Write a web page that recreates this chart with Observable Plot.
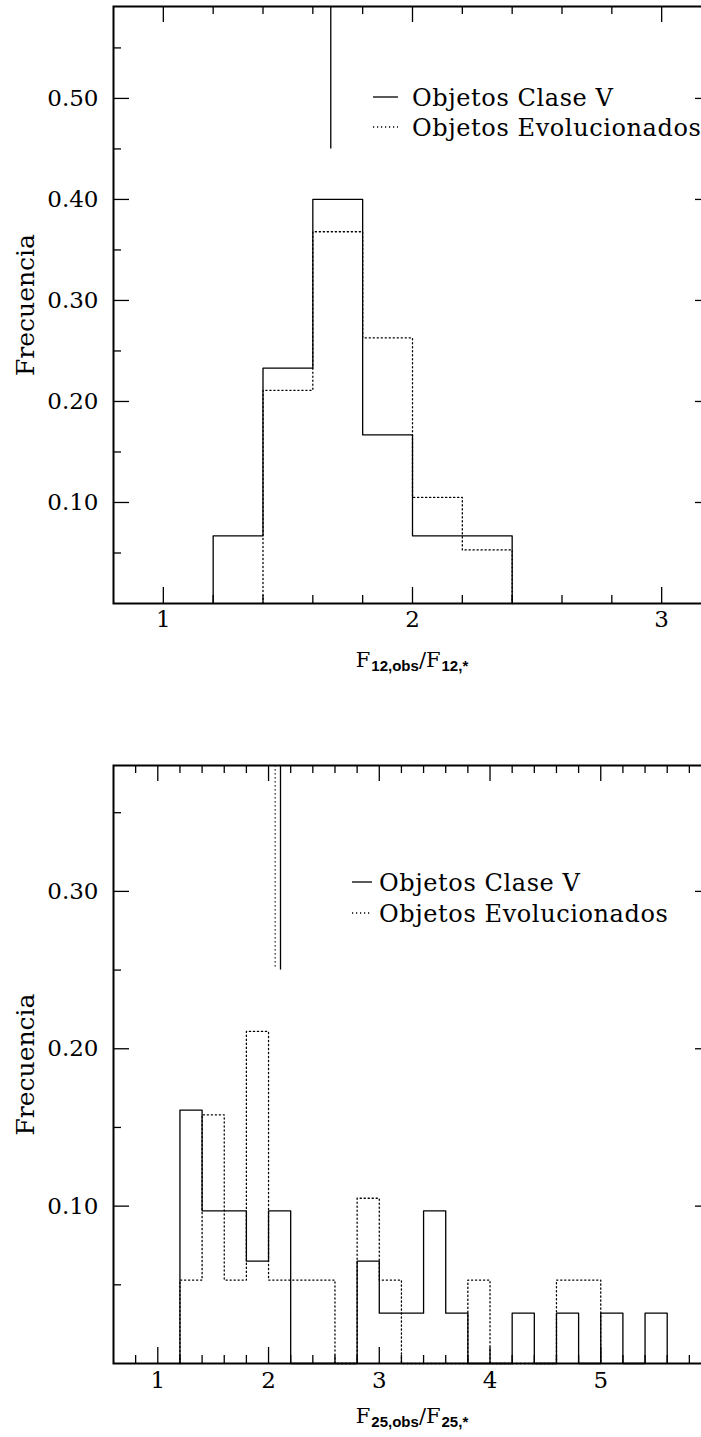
<!DOCTYPE html>
<html><head><meta charset="utf-8">
<script src="https://cdn.jsdelivr.net/npm/d3@7"></script>
<script src="https://cdn.jsdelivr.net/npm/@observablehq/plot@0.6"></script>
<style>
html,body{margin:0;padding:0;background:#fff;overflow:hidden;}
#page{position:relative;width:701px;height:1437px;overflow:hidden;background:#fff;}
.panel{position:absolute;left:0;width:701px;}
.xlabel{position:absolute;font-family:"DejaVu Serif";font-size:21px;color:#000;white-space:nowrap;transform:translateX(-50%);line-height:1;}
.xlabel .sb{font-family:"Liberation Sans";font-weight:bold;font-size:15px;position:relative;top:4px;margin-left:1px;}
</style></head>
<body><div id="page"></div>
<script>
// ---------- DATA ----------
// Top panel: F12,obs/F12,*
const edgesClaseV12 = [1.2, 1.4, 1.6, 1.8, 2.0, 2.2, 2.4];
const claseV12 = [0.067, 0.233, 0.400, 0.167, 0.067, 0.067];
const edgesEvol12 = [1.4, 1.6, 1.8, 2.0, 2.2, 2.4];
const evol12 = [0.211, 0.368, 0.263, 0.105, 0.053];
const markerX12 = [1.672];
const markerY12 = [0.45];
const xMajor12 = [1, 2, 3];
const xMinor12 = [1.2, 1.4, 1.6, 1.8, 2.2, 2.4, 2.6, 2.8, 3.2];
const yMajor12 = [0.10, 0.20, 0.30, 0.40, 0.50];
const yMinor12 = [0.05, 0.15, 0.25, 0.35, 0.45, 0.55];

// Bottom panel: F25,obs/F25,*
const edgesClaseV25 = [1.2, 1.4, 1.6, 1.8, 2.0, 2.2, 2.4, 2.6, 2.8, 3.0, 3.2, 3.4, 3.6, 3.8, 4.0, 4.2, 4.4, 4.6, 4.8, 5.0, 5.2, 5.4, 5.6];
const claseV25 = [0.161, 0.097, 0.097, 0.065, 0.097, 0, 0, 0, 0.065, 0.032, 0.032, 0.097, 0.032, 0, 0, 0.032, 0, 0.032, 0, 0.032, 0, 0.032];
const edgesEvol25 = [1.2, 1.4, 1.6, 1.8, 2.0, 2.2, 2.4, 2.6, 2.8, 3.0, 3.2, 3.4, 3.6, 3.8, 4.0, 4.2, 4.4, 4.6, 4.8, 5.0];
const evol25 = [0.053, 0.158, 0.053, 0.211, 0.053, 0.053, 0.053, 0, 0.105, 0.053, 0, 0, 0, 0.053, 0, 0, 0, 0.053, 0.053];
const markerXClaseV25 = [2.108];
const markerYClaseV25 = [0.25];
const markerXEvol25 = [2.06];
const markerYEvol25 = [0.252];
const xMajor25 = [1, 2, 3, 4, 5];
const xMinor25 = [0.8, 1.2, 1.4, 1.6, 1.8, 2.2, 2.4, 2.6, 2.8, 3.2, 3.4, 3.6, 3.8, 4.2, 4.4, 4.6, 4.8, 5.2, 5.4, 5.6, 5.8];
const yMajor25 = [0.10, 0.20, 0.30];
const yMinor25 = [0.05, 0.15, 0.25, 0.35];

const legendLabels = ["Objetos Clase V", "Objetos Evolucionados"];
const yLabel = "Frecuencia";

// ---------- DRAWING ----------
const FONT = "DejaVu Serif";
const DOT = "1.2,2.8";

function outline(edges, vals) {
  const pts = [{x: edges[0], y: 0}];
  vals.forEach((v, i) => { pts.push({x: edges[i], y: v}); pts.push({x: edges[i + 1], y: v}); });
  pts.push({x: edges[vals.length], y: 0});
  return pts;
}

function panel(o) {
  const width = 701, marginLeft = 113, marginRight = -10;
  const H = o.height - o.marginTop - o.marginBottom;
  const W = width - marginLeft - marginRight;
  const tk = {stroke: "black", strokeWidth: 1.3};
  const marks = [
    Plot.ruleX(o.xMajor, {...tk, insetTop: H - 16}),
    Plot.ruleX(o.xMajor, {...tk, insetBottom: H - 16}),
    Plot.ruleX(o.xMinor, {...tk, insetTop: H - 8}),
    Plot.ruleX(o.xMinor, {...tk, insetBottom: H - 8}),
    Plot.ruleY(o.yMajor, {...tk, insetRight: W - 16}),
    Plot.ruleY(o.yMajor, {...tk, insetLeft: W - 16}),
    Plot.ruleY(o.yMinor, {...tk, insetRight: W - 8}),
    Plot.ruleY(o.yMinor, {...tk, insetLeft: W - 8}),
    Plot.line(outline(o.edgesE, o.valsE), {x: "x", y: "y", stroke: "black", strokeWidth: 1.3, strokeDasharray: DOT}),
    Plot.line(outline(o.edgesV, o.valsV), {x: "x", y: "y", stroke: "black", strokeWidth: 1.3}),
    ...o.markers.map(m => Plot.ruleX(m.x.map((x, i) => ({x, y1: m.y[i]})), {x: "x", y1: "y1", y2: o.yDomain[1], stroke: "black", strokeWidth: 1.3, strokeDasharray: m.dash})),
    Plot.frame({stroke: "black", strokeWidth: 2}),
    Plot.text(o.yMajor, {y: d => d, text: d => d.toFixed(2), frameAnchor: "left", dx: -15, textAnchor: "end", fontSize: 23, fill: "black"}),
    Plot.text(o.xMajor, {x: d => d, text: d => String(d), frameAnchor: "bottom", dy: o.labelDy, textAnchor: "middle", fontSize: 23, fill: "black"}),
    Plot.text([yLabel], {frameAnchor: "left", rotate: -90, dx: -88, textAnchor: "middle", lineAnchor: "middle", fontSize: 25, fill: "black"})
  ];
  const svg = Plot.plot({
    width, height: o.height, marginLeft, marginRight, marginTop: o.marginTop, marginBottom: o.marginBottom,
    x: {domain: o.xDomain, axis: null},
    y: {domain: o.yDomain, axis: null},
    style: {fontFamily: FONT, background: "white", color: "black", overflow: "hidden"},
    marks
  });
  // legend
  const g = d3.select(svg).append("g").attr("font-family", FONT).attr("font-size", 24).attr("text-anchor", "start").attr("letter-spacing", "0.6px");
  legendLabels.forEach((lab, i) => {
    const cy = o.legend.top + i * o.legend.gap;
    g.append("line").attr("x1", o.legend.x1).attr("x2", o.legend.x2).attr("y1", cy).attr("y2", cy)
      .attr("stroke", "black").attr("stroke-width", 1.3).attr("stroke-dasharray", i === 1 ? DOT : null);
    g.append("text").attr("x", o.legend.tx).attr("y", cy + 8.5).attr("fill", "black").attr("text-anchor", "start").text(lab);
  });
  return svg;
}

const page = document.getElementById("page");

function addPanel(top, svg, label, labelTop) {
  const d = document.createElement("div");
  d.className = "panel"; d.style.top = top + "px";
  d.appendChild(svg);
  page.appendChild(d);
  const l = document.createElement("div");
  l.className = "xlabel"; l.style.left = "412px"; l.style.top = labelTop + "px";
  l.innerHTML = label;
  page.appendChild(l);
}

addPanel(0, panel({
  height: 640, marginTop: 6, marginBottom: 37,
  xDomain: [0.8, 3.2], yDomain: [0, 0.591],
  edgesV: edgesClaseV12, valsV: claseV12, edgesE: edgesEvol12, valsE: evol12,
  markers: [{x: markerX12, y: markerY12, dash: null}],
  xMajor: xMajor12, xMinor: xMinor12, yMajor: yMajor12, yMinor: yMinor12,
  labelDy: 23,
  legend: {top: 97, gap: 30, x1: 373, x2: 398, tx: 412}
}), 'F<span class="sb">12,obs</span>/F<span class="sb">12,*</span>', 650);

addPanel(700, panel({
  height: 700, marginTop: 65, marginBottom: 37,
  xDomain: [0.6, 6.0], yDomain: [0, 0.38],
  edgesV: edgesClaseV25, valsV: claseV25, edgesE: edgesEvol25, valsE: evol25,
  markers: [{x: markerXEvol25, y: markerYEvol25, dash: DOT}, {x: markerXClaseV25, y: markerYClaseV25, dash: null}],
  xMajor: xMajor25, xMinor: xMinor25, yMajor: yMajor25, yMinor: yMinor25,
  labelDy: 24,
  legend: {top: 182, gap: 31, x1: 352, x2: 372, tx: 379}
}), 'F<span class="sb">25,obs</span>/F<span class="sb">25,*</span>', 1406);
</script>
</body></html>
